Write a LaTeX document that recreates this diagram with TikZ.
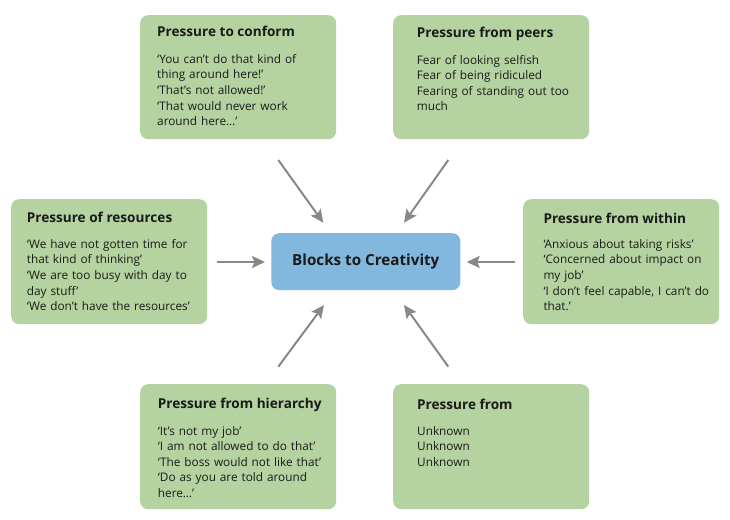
\documentclass[tikz,border=0pt]{standalone}
\usepackage{fontspec}
\setmainfont{Open Sans}
\usetikzlibrary{arrows.meta}
\definecolor{boxgreen}{HTML}{B5D3A0}
\definecolor{boxblue}{HTML}{82B8DD}
\definecolor{arrowgray}{HTML}{888888}
\definecolor{txt}{HTML}{1A1A1A}
\tikzset{
  greenbox/.style={draw=none, fill=boxgreen, rounded corners=8pt, anchor=north west, minimum width=196pt, inner sep=0pt},
  bluebox/.style={draw=none, fill=boxblue, rounded corners=8pt, minimum width=189pt, minimum height=57pt, inner sep=0pt, font=\fontsize{15.2}{18}\selectfont\bfseries, text=txt},
  boxtitle/.style={anchor=base west, inner sep=0pt, font=\fontsize{13.6}{17}\selectfont\bfseries, text=txt},
  boxbody/.style={anchor=base west, inner sep=0pt, text width=190pt, align=left, font=\fontsize{11.8}{15.6}\selectfont, text=txt},
  pressarrow/.style={draw=arrowgray, line width=2pt, -{Stealth[length=13pt,width=12pt,inset=2.5pt]}},
}
\begin{document}
\begin{tikzpicture}[x=1pt,y=-1pt]
\useasboundingbox (0,0) rectangle (730,519);
% boxes
\node[greenbox, minimum height=124pt] (tl) at (140,15) {};
\node[greenbox, minimum height=124pt] (tr) at (393,15) {};
\node[greenbox, minimum height=125pt] (l) at (11,199) {};
\node[greenbox, minimum height=125pt] (r) at (523,199) {};
\node[greenbox, minimum height=125pt] (bl) at (140,384) {};
\node[greenbox, minimum height=125pt] (br) at (393,384) {};
\node[bluebox] (c) at (365.8,261.7) {Blocks to Creativity};
% texts
\node[boxtitle] (tlt) at (157,36.7) {Pressure to conform};
\node[boxbody] (tlb) at (157,63.3) {‘You can’t do that kind of\\thing around here!’\\‘That’s not allowed!’\\‘That would never work\\around here…’};
\node[boxtitle] (trt) at (416.7,37.3) {Pressure from peers};
\node[boxbody] (trb) at (416.7,64) {Fear of looking selfish\\Fear of being ridiculed\\Fearing of standing out too\\much};
\node[boxtitle] (lt) at (26.7,222.7) {Pressure of resources};
\node[boxbody] (lb) at (26.7,248.3) {‘We have not gotten time for\\that kind of thinking’\\‘We are too busy with day to\\day stuff’\\‘We don’t have the resources’};
\node[boxtitle] (rt) at (543.3,223.3) {Pressure from within};
\node[boxbody] (rb) at (543.3,248.3) {‘Anxious about taking risks’\\‘Concerned about impact on\\my job’\\‘I don’t feel capable, I can’t do\\that.’};
\node[boxtitle] (blt) at (157.7,408.3) {Pressure from hierarchy};
\node[boxbody] (blb) at (157.7,435) {‘It’s not my job’\\‘I am not allowed to do that’\\‘The boss would not like that’\\‘Do as you are told around\\here…’};
\node[boxtitle] (brt) at (417,409) {Pressure from};
\node[boxbody] (brb) at (417,435) {Unknown\\Unknown\\Unknown};
% arrow ends
\coordinate (a1s) at (278.3,160);  \coordinate (a1e) at (323.3,222.7);
\coordinate (a2s) at (448.3,160);  \coordinate (a2e) at (404,222.7);
\coordinate (a3s) at (216.7,262);  \coordinate (a3e) at (265,262);
\coordinate (a4s) at (514.5,262);  \coordinate (a4e) at (466.7,262);
\coordinate (a5s) at (278.3,366.7);\coordinate (a5e) at (324,305);
\coordinate (a6s) at (448.3,366.7);\coordinate (a6e) at (404,305);
\draw[pressarrow] (a1s) -- (a1e);
\draw[pressarrow] (a2s) -- (a2e);
\draw[pressarrow] (a3s) -- (a3e);
\draw[pressarrow] (a4s) -- (a4e);
\draw[pressarrow] (a5s) -- (a5e);
\draw[pressarrow] (a6s) -- (a6e);
\end{tikzpicture}
\end{document}
